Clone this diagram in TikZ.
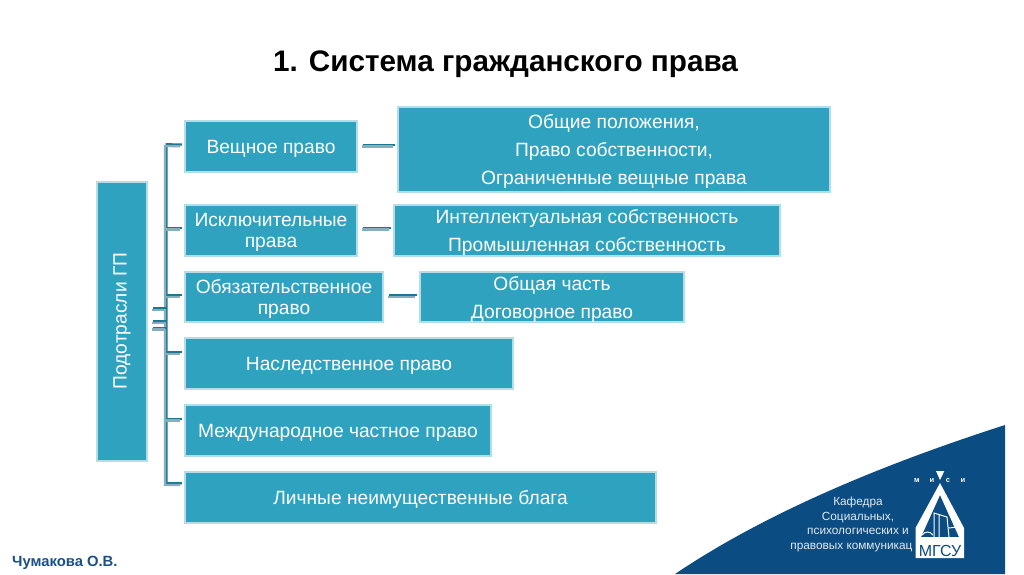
\documentclass[tikz,border=0pt]{standalone}
\usepackage{fontspec}
\setmainfont{Liberation Sans}
\definecolor{boxfill}{HTML}{2EA2BF}
\definecolor{boxline}{HTML}{B4DDE8}
\definecolor{conndark}{HTML}{1F7893}
\definecolor{connlight}{HTML}{86AEBC}
\definecolor{cornerblue}{HTML}{0B4C82}
\definecolor{authorblue}{HTML}{1B4F87}
\tikzset{
	box/.style={draw=boxline, fill=boxfill, line width=1.4pt, text=white, inner sep=0pt, align=center, text depth=0pt, font=\fontsize{19.2}{21}\selectfont},
	listbox/.style={box, font=\fontsize{19.2}{28}\selectfont},
	conn/.style={draw=connlight, line width=2.2pt, preaction={draw=conndark, line width=2.2pt, transform canvas={xshift=1.6pt, yshift=1.8pt}}},
	stub/.style={conn, shorten <=4pt, shorten >=4pt},
	logoline/.style={draw=white, line width=1pt}
}
\begin{document}
\begin{tikzpicture}[x=1pt, y=-1pt]
	\useasboundingbox (0,0) rectangle (1024,574);
	\fill[cornerblue] (675,574) .. controls (770,510) and (890,462) .. (1005,425) -- (1005,574) -- cycle;
	\node[font=\bfseries\fontsize{29.7}{32}\selectfont] (title) at (505.5,64) {1. Система гражданского права};
	\node[box, minimum width=50pt, minimum height=279pt] (root) at (122,321.5) {};
	\node[rotate=90, text=white, font=\fontsize{19.2}{21}\selectfont] (rootlabel) at (122,321) {Подотрасли ГП};
	\node[box, minimum width=172pt, minimum height=51pt] (realbox) at (271,146.5) {Вещное право};
	\node[box, minimum width=172pt, minimum height=51pt] (exclbox) at (271,230.5) {Исключительные\\права};
	\node[box, minimum width=198pt, minimum height=50pt] (oblbox) at (284,297) {Обязательственное\\право};
	\node[box, minimum width=328pt, minimum height=51pt] (inhbox) at (349,363.5) {Наследственное право};
	\node[box, minimum width=306pt, minimum height=51pt] (intbox) at (338,430.5) {Международное частное право};
	\node[box, minimum width=471pt, minimum height=51pt] (persbox) at (420.5,497.5) {Личные неимущественные блага};
	\node[listbox, minimum width=432pt, minimum height=85pt] (realsub) at (614,149.5) {Общие положения,\\Право собственности,\\Ограниченные вещные права};
	\node[listbox, minimum width=386pt, minimum height=51pt] (exclsub) at (587,230.5) {Интеллектуальная собственность\\Промышленная собственность};
	\node[listbox, minimum width=264pt, minimum height=50pt] (oblsub) at (552,297) {Общая часть\\Договорное право};
	\coordinate (bustop) at (165,146);
	\coordinate (busbot) at (165,485);
	\draw[conn, shorten <=4pt, shorten >=4pt] (realbox.west) -- (bustop) -- (busbot) -- (busbot -| persbox.west);
	\foreach \boxname/\off in {exclbox/1, oblbox/0, inhbox/9.5, intbox/10}
		\draw[conn, shorten <=4pt] ([yshift=\off pt]\boxname.west) -- ([yshift=\off pt]\boxname.west -| bustop);
	\foreach \off in {11.5, -1.5, -8}
		\draw[conn, shorten <=4pt] ([yshift=\off pt]root.east) -- ([yshift=\off pt]root.east -| bustop);
	\draw[stub] (realbox.east) -- (realbox.east -| realsub.west);
	\draw[stub] ([yshift=1pt]exclbox.east) -- ([yshift=1pt]exclbox.east -| exclsub.west);
	\draw[stub] (oblbox.east) -- (oblbox.east -| oblsub.west);
	\node[text=white!88!cornerblue, align=center, font=\fontsize{11.8}{14.5}\selectfont] (dept) at (858,524.5) {Кафедра\\Социальных,\\психологических и\\правовых коммуникац\phantom{ий}};
	\fill[white] (936,471) -- (944.3,471) -- (940,480) -- cycle;
	\fill[white, even odd rule] (940,483) -- (964,528) -- (964,558) -- (915.5,558) -- (915.5,528) -- cycle (940,495) -- (921,537) -- (959,537) -- cycle;
	\draw[logoline] (934,537) -- (934,513) -- (947,517) -- (949,537) (939,514) -- (939,537) (949,528) -- (957,527);
	\draw[logoline] (922,535) .. controls (925,531) and (930,531) .. (933,535);
	\foreach \letter/\lx in {м/917, и/932, с/948, и/963}
		\node[text=white, font=\bfseries\fontsize{7.5}{9}\selectfont, inner sep=0pt] (logo\lx) at (\lx,481) {\letter};
	\node[text=cornerblue, font=\fontsize{16}{18}\selectfont, inner sep=0pt] (logoname) at (940,551) {МГСУ};
	\node[text=authorblue, font=\bfseries\fontsize{14.8}{16}\selectfont, anchor=west, inner sep=0pt] (author) at (12,563) {Чумакова О.В.};
\end{tikzpicture}
\end{document}
